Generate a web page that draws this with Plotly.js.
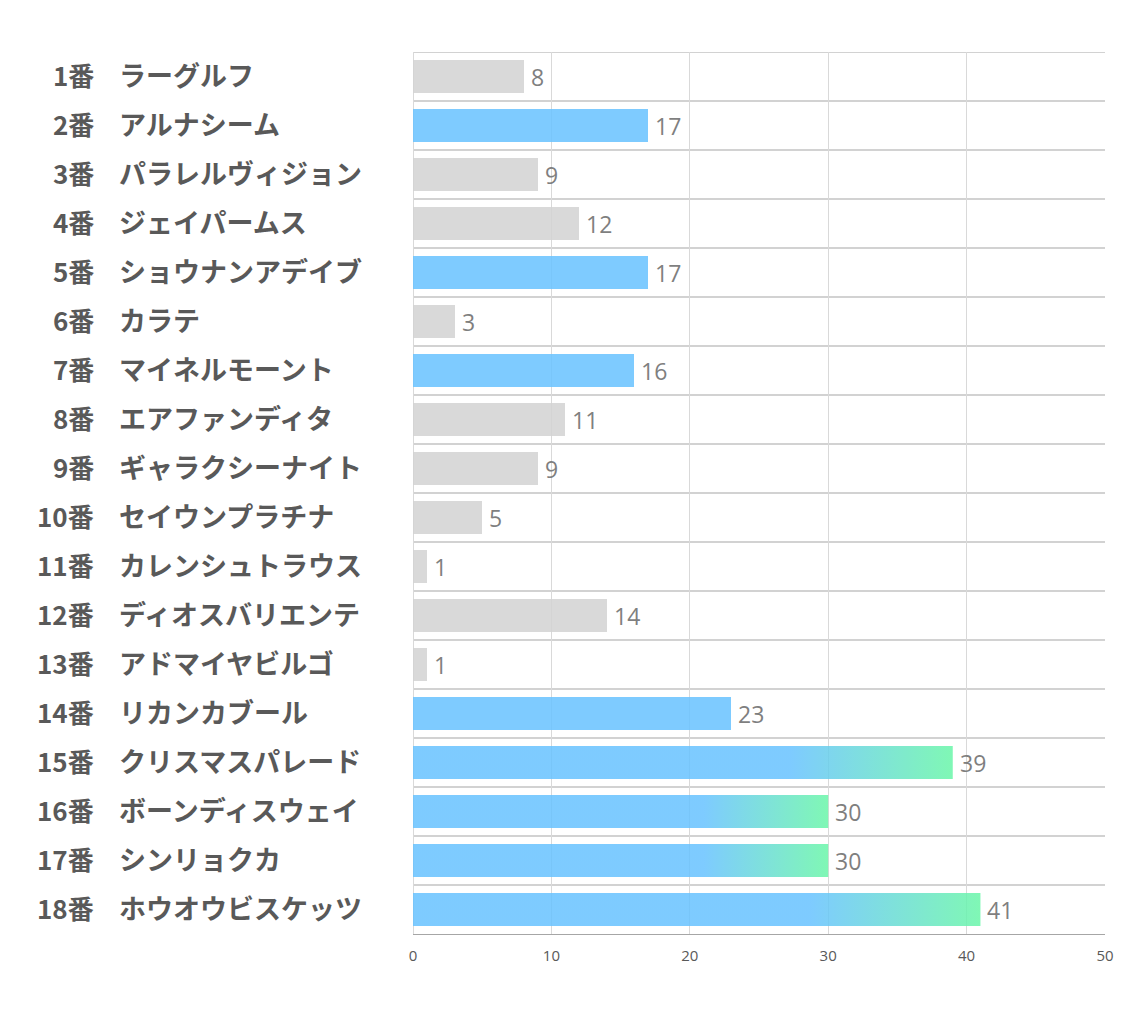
<!DOCTYPE html>
<html>
<head>
<meta charset="utf-8">
<script src="https://cdn.plot.ly/plotly-3.0.1.min.js"></script>
<style>
html,body{margin:0;padding:0;background:#fff;}
#chart{width:1134px;height:1020px;}
</style>
</head>
<body>
<div id="chart"></div>
<script>
const nums = ['1番','2番','3番','4番','5番','6番','7番','8番','9番','10番','11番','12番','13番','14番','15番','16番','17番','18番'];
const names = ['ラーグルフ','アルナシーム','パラレルヴィジョン','ジェイパームス','ショウナンアデイブ','カラテ','マイネルモーント','エアファンディタ','ギャラクシーナイト','セイウンプラチナ','カレンシュトラウス','ディオスバリエンテ','アドマイヤビルゴ','リカンカブール','クリスマスパレード','ボーンディスウェイ','シンリョクカ','ホウオウビスケッツ'];
const values = [8,17,9,12,17,3,16,11,9,5,1,14,1,23,39,30,30,41];
const kinds = ['gray','blue','gray','gray','blue','gray','blue','gray','gray','gray','gray','gray','gray','blue','grad','grad','grad','grad'];
const xTicks = [0,10,20,30,40,50];

const GRAY = 'rgba(210,210,210,0.85)';
const BLUE = 'rgba(103,194,255,0.85)';
const GREEN = 'rgba(105,246,168,0.85)';
const BAR_W = 0.67;

const idx = values.map((_, i) => i);

const traces = [{
  type: 'bar',
  orientation: 'h',
  x: values,
  y: idx,
  width: BAR_W,
  marker: {
    color: kinds.map(k => k === 'gray' ? GRAY : (k === 'blue' ? BLUE : 'rgba(0,0,0,0)')),
    line: {width: 0}
  },
  hoverinfo: 'none',
  showlegend: false
}];

idx.forEach(i => {
  if (kinds[i] !== 'grad') return;
  const v = values[i];
  const h = BAR_W / 2;
  traces.push({
    type: 'scatter',
    mode: 'none',
    x: [0, v, v, 0, 0],
    y: [i - h, i - h, i + h, i + h, i - h],
    fill: 'toself',
    fillgradient: {
      type: 'horizontal',
      colorscale: [[0, BLUE], [0.7, BLUE], [1, GREEN]]
    },
    hoverinfo: 'none',
    showlegend: false
  });
});

const numFont = {family: '"Noto Sans CJK JP", sans-serif', size: 26, color: '#595959', weight: 'bold'};
const nameFont = {family: '"Noto Sans CJK JP", sans-serif', size: 27, color: '#595959', weight: 'bold'};
const annotations = [];
idx.forEach(i => {
  annotations.push({
    xref: 'paper', yref: 'y', x: 0, y: i, xanchor: 'right', yanchor: 'middle',
    xshift: -317, yshift: 2, showarrow: false, text: nums[i], font: numFont
  });
  annotations.push({
    xref: 'paper', yref: 'y', x: 0, y: i, xanchor: 'left', yanchor: 'middle',
    xshift: -296, yshift: 2, showarrow: false, text: names[i], font: nameFont
  });
  annotations.push({
    xref: 'x', yref: 'y', x: values[i], y: i, xanchor: 'left', yanchor: 'middle',
    xshift: 5, yshift: 0, showarrow: false, text: String(values[i]),
    font: {family: '"Open Sans", sans-serif', size: 23, color: '#7f7f7f'}
  });
});

const shapes = [];
for (let k = 0; k < values.length; k++) {
  shapes.push({
    type: 'line', xref: 'paper', yref: 'y', x0: 0, x1: 1, y0: k - 0.5, y1: k - 0.5,
    line: {color: '#a6a6a6', width: 1.2}, layer: 'below'
  });
}

const layout = {
  width: 1134, height: 1020,
  margin: {l: 413, r: 29, t: 52, b: 86},
  paper_bgcolor: '#ffffff', plot_bgcolor: '#ffffff',
  bargap: 0,
  showlegend: false,
  xaxis: {
    range: [0, 50], tickvals: xTicks, ticktext: xTicks.map(String),
    showgrid: true, gridcolor: '#d9d9d9', gridwidth: 1,
    zeroline: true, zerolinecolor: '#d9d9d9', zerolinewidth: 1,
    showline: true, linecolor: '#a6a6a6', linewidth: 1.2,
    ticks: '', ticklabelstandoff: 8,
    tickfont: {family: '"Open Sans", sans-serif', size: 15, color: '#595959'},
    fixedrange: true
  },
  yaxis: {
    range: [values.length - 0.5, -0.5],
    showgrid: false, zeroline: false, showticklabels: false, showline: false,
    ticks: '', fixedrange: true
  },
  annotations: annotations,
  shapes: shapes
};

Plotly.newPlot('chart', traces, layout, {displayModeBar: false, staticPlot: true});
</script>
</body>
</html>
